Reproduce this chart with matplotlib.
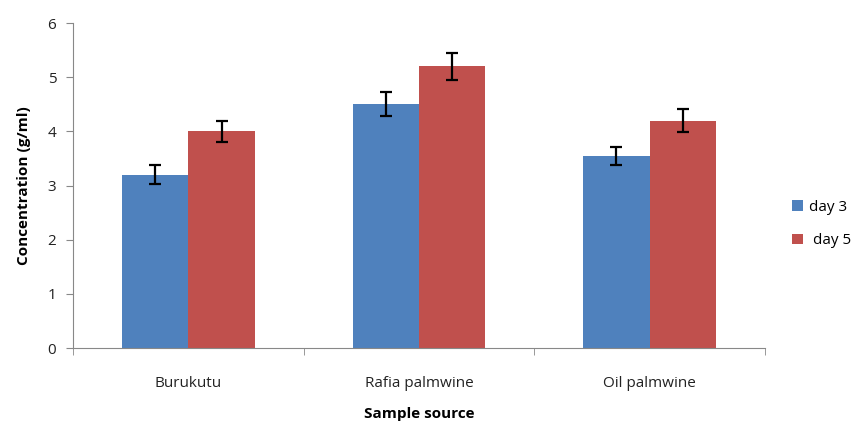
import matplotlib
matplotlib.use("Agg")
import matplotlib.pyplot as plt
import numpy as np

categories = ["Burukutu", "Rafia palmwine", "Oil palmwine"]
day3 = [3.2, 4.5, 3.55]
day5 = [4.0, 5.2, 4.2]
day3_err = [0.17, 0.22, 0.17]
day5_err = [0.2, 0.25, 0.21]
series_names = ["day 3", " day 5"]

plt.rcParams['font.family'] = ['Open Sans', 'DejaVu Sans']

fig = plt.figure(figsize=(8.6, 4.23), dpi=100)
ax = fig.add_axes([0.0849, 0.1773, 0.8046, 0.7683])

x = np.arange(len(categories))
w = 0.288
blue = "#4F81BD"
red = "#C0504D"
ekw = dict(ecolor="black", elinewidth=1.6, capsize=4, capthick=1.6)
ax.bar(x - w/2, day3, w, color=blue, label=series_names[0], yerr=day3_err, error_kw=ekw)
ax.bar(x + w/2, day5, w, color=red, label=series_names[1], yerr=day5_err, error_kw=ekw)

ax.set_xlim(-0.5, 2.5)
ax.set_ylim(0, 6)
ax.set_yticks(range(0, 7))
ax.set_xticks(x)
ax.set_xticklabels(categories)
ax.set_xticks([-0.5, 0.5, 1.5, 2.5], minor=True)
ax.tick_params(axis='x', which='major', length=0, pad=20, labelsize=11, colors="#222222")
ax.tick_params(axis='x', which='minor', length=5, color="#888888", direction='out')
ax.tick_params(axis='y', length=5, color="#888888", labelsize=11, labelcolor="#222222", pad=7)

for s in ["top", "right"]:
    ax.spines[s].set_visible(False)
for s in ["left", "bottom"]:
    ax.spines[s].set_color("#888888")
    ax.spines[s].set_linewidth(0.8)

ax.set_xlabel("Sample source", fontweight="bold", fontsize=11, labelpad=12)
ax.set_ylabel("Concentration (g/ml)", fontweight="bold", fontsize=11, labelpad=12)

fig.legend(loc="center left", bbox_to_anchor=(0.905, 0.47), frameon=False,
           fontsize=11, handlelength=0.7, handleheight=0.7, labelspacing=1.2,
           handletextpad=0.4)

fig.savefig("out.png", dpi=100)
